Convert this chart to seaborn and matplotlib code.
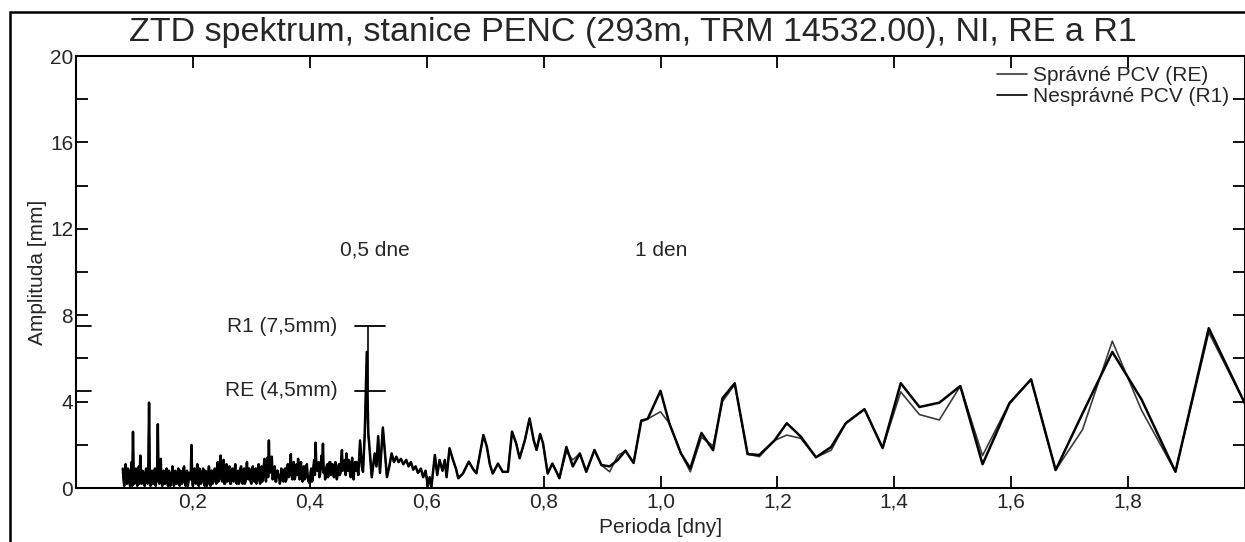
import matplotlib
matplotlib.use("Agg")
import matplotlib.pyplot as plt
import seaborn as sns
import pandas as pd
from matplotlib.patches import Rectangle
from matplotlib.ticker import FuncFormatter, MultipleLocator

# ---------------- data ----------------
# dense short-period part (both solutions overlap there)
period_dense = [
    0.080, 0.0825, 0.085, 0.0875, 0.090, 0.0925, 0.095, 0.0975, 0.100, 0.1025,
    0.105, 0.1075, 0.110, 0.1125, 0.115, 0.1175, 0.120, 0.1225, 0.125, 0.1275,
    0.130, 0.1325, 0.135, 0.1375, 0.140, 0.1425, 0.145, 0.1475, 0.150, 0.1525,
    0.155, 0.1575, 0.160, 0.1625, 0.165, 0.1675, 0.170, 0.1725, 0.175, 0.1775,
    0.180, 0.1825, 0.185, 0.1875, 0.190, 0.1925, 0.195, 0.1975, 0.200, 0.2025,
    0.205, 0.2075, 0.210, 0.2125, 0.215, 0.2175, 0.220, 0.2225, 0.225, 0.2275,
    0.230, 0.2325, 0.235, 0.2375, 0.240, 0.2425, 0.245, 0.2475, 0.250, 0.2525,
    0.255, 0.2575, 0.260, 0.2625, 0.265, 0.2675, 0.270, 0.2725, 0.275, 0.2775,
    0.280, 0.2825, 0.285, 0.2875, 0.290, 0.2925, 0.295, 0.2975, 0.300, 0.3025,
    0.305, 0.3075, 0.310, 0.3125, 0.315, 0.3175, 0.320, 0.3225, 0.325, 0.3275,
    0.330, 0.3325, 0.335, 0.3375, 0.340, 0.3425, 0.345, 0.3475, 0.350, 0.3525,
    0.355, 0.3575, 0.360, 0.3625, 0.365, 0.3675, 0.370, 0.3725, 0.375, 0.3775,
    0.380, 0.3825, 0.385, 0.3875, 0.390, 0.3925, 0.395, 0.3975, 0.400, 0.4025,
    0.405, 0.4075, 0.410, 0.4125, 0.415, 0.4175, 0.420, 0.4225, 0.425, 0.4275,
    0.430, 0.4325, 0.435, 0.4375, 0.440, 0.4425, 0.445, 0.4475, 0.450, 0.4525,
    0.455, 0.4575, 0.460, 0.4625, 0.465, 0.4675, 0.470, 0.4725, 0.475, 0.4775,
    0.480, 0.483, 0.486, 0.489, 0.491, 0.494,
]
amp_dense = [
    0.9, 0.1, 1.1, 0.2, 0.8, 0.1, 1.2, 2.6, 0.2, 0.9,
    0.1, 1.0, 1.5, 0.2, 0.7, 0.1, 0.9, 0.2, 3.95, 0.1,
    0.8, 0.2, 0.9, 0.3, 2.95, 0.2, 1.35, 0.1, 0.8, 0.2,
    0.9, 0.1, 0.7, 0.3, 1.0, 0.1, 0.8, 0.2, 0.9, 0.1,
    0.7, 0.3, 1.0, 0.1, 0.8, 0.3, 0.6, 1.99, 0.1, 0.9,
    0.2, 1.1, 0.1, 0.8, 0.3, 0.9, 0.1, 0.7, 0.2, 1.0,
    0.1, 0.8, 0.3, 0.9, 0.2, 1.2, 0.4, 1.5, 0.3, 1.3,
    0.2, 1.1, 0.4, 1.0, 0.2, 0.9, 0.3, 1.1, 0.2, 0.8,
    0.4, 1.0, 0.2, 0.9, 0.3, 1.2, 0.4, 0.8, 0.2, 1.0,
    0.3, 0.9, 0.4, 1.1, 0.2, 1.0, 0.5, 1.35, 0.3, 1.4,
    2.2, 0.9, 1.45, 0.5, 1.0, 0.3, 0.8, 0.6, 0.35, 0.7,
    0.3, 0.9, 0.4, 1.1, 0.6, 1.57, 0.4, 1.2, 0.5, 1.1,
    1.35, 0.4, 1.2, 0.3, 1.0, 0.5, 1.1, 0.3, 0.2, 0.9,
    0.4, 1.3, 2.1, 0.8, 1.2, 0.6, 1.5, 2.05, 0.9, 0.65,
    1.1, 0.8, 1.2, 0.7, 1.0, 0.8, 0.9, 0.6, 1.1, 0.7,
    1.75, 0.9, 1.3, 1.6, 0.8, 1.2, 0.5, 1.4, 0.4, 1.2,
    1.2, 0.6, 2.2, 1.0, 0.75, 2.5,
]
# in-between harmonics of the dense part
period_dense_mid = [
    0.08125, 0.08375, 0.08625, 0.08875, 0.09125, 0.09375, 0.09625, 0.09875, 0.10125, 0.10375,
    0.10625, 0.10875, 0.11125, 0.11375, 0.11625, 0.11875, 0.12125, 0.12375, 0.12625, 0.12875,
    0.13125, 0.13375, 0.13625, 0.13875, 0.14125, 0.14375, 0.14625, 0.14875, 0.15125, 0.15375,
    0.15625, 0.15875, 0.16125, 0.16375, 0.16625, 0.16875, 0.17125, 0.17375, 0.17625, 0.17875,
    0.18125, 0.18375, 0.18625, 0.18875, 0.19125, 0.19375, 0.19625, 0.19875, 0.20125, 0.20375,
    0.20625, 0.20875, 0.21125, 0.21375, 0.21625, 0.21875, 0.22125, 0.22375, 0.22625, 0.22875,
    0.23125, 0.23375, 0.23625, 0.23875, 0.24125, 0.24375, 0.24625, 0.24875, 0.25125, 0.25375,
    0.25625, 0.25875, 0.26125, 0.26375, 0.26625, 0.26875, 0.27125, 0.27375, 0.27625, 0.27875,
    0.28125, 0.28375, 0.28625, 0.28875, 0.29125, 0.29375, 0.29625, 0.29875, 0.30125, 0.30375,
    0.30625, 0.30875, 0.31125, 0.31375, 0.31625, 0.31875, 0.32125, 0.32375, 0.32625, 0.32875,
    0.33125, 0.33375, 0.33625, 0.33875, 0.34125, 0.34375, 0.34625, 0.34875, 0.35125, 0.35375,
    0.35625, 0.35875, 0.36125, 0.36375, 0.36625, 0.36875, 0.37125, 0.37375, 0.37625, 0.37875,
    0.38125, 0.38375, 0.38625, 0.38875, 0.39125, 0.39375, 0.39625, 0.39875, 0.40125, 0.40375,
    0.40625, 0.40875, 0.41125, 0.41375, 0.41625, 0.41875, 0.42125, 0.42375, 0.42625, 0.42875,
    0.43125, 0.43375, 0.43625, 0.43875, 0.44125, 0.44375, 0.44625, 0.44875, 0.45125, 0.45375,
    0.45625, 0.45875, 0.46125, 0.46375, 0.46625, 0.46875, 0.47125, 0.47375, 0.47625, 0.47875,
]
amp_dense_mid = [
    0.4, 0.7, 0.2, 0.9, 0.3, 0.6, 0.1, 0.5, 0.8, 0.3,
    0.6, 0.2, 0.4, 0.8, 0.3, 0.7, 0.4, 0.9, 0.5, 0.6,
    0.2, 0.7, 0.1, 0.6, 0.4, 0.8, 0.3, 0.7, 0.2, 0.6,
    0.3, 0.8, 0.1, 0.6, 0.4, 0.7, 0.2, 0.5, 0.3, 0.8,
    0.2, 0.9, 0.3, 0.6, 0.1, 0.7, 0.4, 0.5, 0.8, 0.3,
    0.7, 0.3, 0.9, 0.2, 0.6, 0.4, 0.8, 0.1, 0.7, 0.3,
    0.8, 0.2, 0.6, 0.4, 0.9, 0.3, 0.7, 0.5, 0.8, 0.2,
    0.6, 0.3, 0.9, 0.2, 0.7, 0.4, 0.8, 0.3, 0.6, 0.2,
    0.9, 0.3, 0.7, 0.2, 0.8, 0.5, 0.9, 0.3, 0.7, 0.4,
    0.8, 0.2, 0.9, 0.4, 0.7, 0.3, 1.0, 0.6, 0.9, 0.5,
    0.7, 1.1, 0.4, 0.9, 0.3, 0.8, 0.5, 0.2, 0.9, 0.4,
    0.8, 0.3, 1.0, 0.5, 0.9, 0.6, 1.0, 0.4, 0.8, 0.6,
    0.7, 1.0, 0.5, 0.8, 0.4, 0.9, 0.6, 0.5, 0.7, 0.3,
    1.0, 0.6, 0.9, 1.1, 0.5, 1.0, 0.9, 0.7, 0.4, 1.0,
    0.5, 1.2, 0.6, 1.1, 0.5, 1.2, 0.4, 1.0, 0.6, 1.3,
    0.8, 1.1, 0.6, 1.0, 1.3, 0.7, 1.1, 0.6, 1.0, 0.8,
]

# longer-period part, where the two solutions differ
period_main = [
    0.4975, 0.500, 0.502, 0.506, 0.511, 0.514, 0.517, 0.520, 0.525, 0.529,
    0.532, 0.536, 0.540, 0.544, 0.548, 0.552, 0.556, 0.560, 0.565, 0.569,
    0.573, 0.577, 0.581, 0.585, 0.590, 0.594, 0.598, 0.602, 0.605, 0.608,
    0.611, 0.614, 0.618, 0.622, 0.627, 0.631, 0.634, 0.639, 0.645, 0.650,
    0.654, 0.662, 0.672, 0.680, 0.685, 0.697, 0.703, 0.708, 0.713, 0.722,
    0.730, 0.739, 0.746, 0.753, 0.759, 0.768, 0.776, 0.783, 0.788, 0.794,
    0.799, 0.807, 0.815, 0.822, 0.827, 0.839, 0.850, 0.862, 0.873, 0.887,
    0.899, 0.913, 0.927, 0.940, 0.954, 0.967, 0.978, 1.000, 1.015, 1.035,
    1.051, 1.070, 1.090, 1.106, 1.127, 1.149, 1.169, 1.195, 1.216, 1.240,
    1.266, 1.292, 1.317, 1.349, 1.380, 1.411, 1.443, 1.477, 1.513, 1.551,
    1.597, 1.634, 1.676, 1.722, 1.773, 1.823, 1.881, 1.938, 2.000,
]
amp_re = [
    4.1, 2.4, 1.9, 0.5, 1.6, 1.0, 2.4, 0.7, 2.8, 1.5,
    0.5, 1.0, 1.6, 1.2, 1.45, 1.2, 1.35, 1.1, 1.3, 1.0,
    1.2, 0.85, 1.0, 0.7, 0.9, 0.5, 0.8, 0.1, 0.5, 0.05,
    0.8, 1.53, 0.6, 1.3, 0.8, 1.3, 0.5, 1.84, 1.3, 0.9,
    0.45, 0.67, 1.22, 0.85, 0.68, 2.45, 1.9, 1.1, 0.67, 1.13,
    0.75, 0.75, 2.61, 2.07, 1.38, 2.22, 3.22, 2.22, 1.76, 2.5,
    2.07, 0.67, 1.13, 0.75, 0.45, 1.68, 1.3, 1.6, 0.75, 1.76,
    1.06, 0.75, 1.5, 1.73, 1.16, 3.15, 3.2, 3.53, 3.0, 1.6,
    0.75, 2.35, 1.95, 4.0, 4.8, 1.57, 1.45, 2.2, 2.45, 2.3,
    1.42, 1.75, 3.0, 3.65, 1.85, 4.45, 3.4, 3.15, 4.72, 1.5,
    3.95, 5.03, 0.83, 2.7, 6.8, 3.6, 0.75, 7.2, 3.9,
]
amp_r1 = [
    6.3, 2.6, 1.9, 0.5, 1.6, 1.0, 2.4, 0.7, 2.8, 1.5,
    0.5, 1.0, 1.6, 1.2, 1.45, 1.2, 1.35, 1.1, 1.3, 1.0,
    1.2, 0.85, 1.0, 0.7, 0.9, 0.5, 0.8, 0.1, 0.5, 0.05,
    0.8, 1.53, 0.6, 1.3, 0.8, 1.3, 0.5, 1.84, 1.3, 0.9,
    0.45, 0.67, 1.22, 0.85, 0.68, 2.45, 1.9, 1.1, 0.67, 1.13,
    0.75, 0.75, 2.61, 2.07, 1.38, 2.22, 3.22, 2.22, 1.76, 2.5,
    2.07, 0.67, 1.13, 0.75, 0.45, 1.9, 1.0, 1.6, 0.75, 1.76,
    1.06, 1.0, 1.3, 1.73, 1.16, 3.1, 3.2, 4.5, 3.0, 1.6,
    0.9, 2.55, 1.75, 4.15, 4.85, 1.57, 1.53, 2.2, 3.0, 2.38,
    1.42, 1.9, 3.0, 3.65, 1.85, 4.85, 3.75, 3.95, 4.72, 1.1,
    3.92, 5.03, 0.83, 3.45, 6.3, 4.1, 0.75, 7.4, 3.9,
]

series_labels = ["Správné PCV (RE)", "Nesprávné PCV (R1)"]
x_ticks = [0.2, 0.4, 0.6, 0.8, 1.0, 1.2, 1.4, 1.6, 1.8]
y_ticks = [0, 4, 8, 12, 16, 20]
peak_levels = [4.5, 7.5]
peak_labels = ["RE (4,5mm)", "R1 (7,5mm)"]
peak_period = 0.5
title = "ZTD spektrum, stanice PENC (293m, TRM 14532.00), NI, RE a R1"

# ---------------- figure ----------------
sns.set_style("ticks")
plt.rcParams["font.family"] = ["Liberation Sans", "DejaVu Sans"]
plt.rcParams["axes.linewidth"] = 1.5

W, H = 1245, 542
FS = 15
fig = plt.figure(figsize=(W / 100, H / 100), dpi=100)
ax = fig.add_axes([76 / W, 1 - 488 / H, 1 - 76 / W, (488 - 56) / H])

x_all = period_dense + period_dense_mid + period_main
df_re = pd.DataFrame({"x": x_all, "y": amp_dense + amp_dense_mid + amp_re})
df_r1 = pd.DataFrame({"x": x_all, "y": amp_dense + amp_dense_mid + amp_r1})

sns.lineplot(data=df_re, x="x", y="y", ax=ax, color="#3a3a3a", linewidth=1.2,
             label=series_labels[0], estimator=None, sort=True)
sns.lineplot(data=df_r1, x="x", y="y", ax=ax, color="black", linewidth=1.8,
             label=series_labels[1], estimator=None, sort=True)

ax.set_xlim(0, 2.0)
ax.set_ylim(0, 20)
ax.set_xticks(x_ticks)
ax.set_yticks(y_ticks)
ax.yaxis.set_minor_locator(MultipleLocator(2))
ax.xaxis.set_major_formatter(FuncFormatter(lambda v, p: f"{v:.1f}".replace(".", ",")))
ax.tick_params(which="both", direction="in", top=True, right=True,
               length=8.5, width=1.3, labelsize=FS, pad=3, color="black")
ax.tick_params(axis="y", pad=2)
for s in ax.spines.values():
    s.set_color("black")

ax.set_xlabel("Perioda [dny]", fontsize=FS, labelpad=5)
ax.set_ylabel("Amplituda [mm]", fontsize=FS, labelpad=2)

# peak marker (I-beam) and axis marks
ax.plot([peak_period, peak_period], peak_levels, color="black", lw=1.2)
for lev, lab in zip(peak_levels, peak_labels):
    ax.plot([0.478, 0.528], [lev, lev], color="black", lw=1.3)
    ax.plot([0, 0.026], [lev, lev], color="black", lw=1.3, clip_on=False)
    ax.text(0.447, lev, lab, fontsize=FS, ha="right", va="center")

ax.text(0.451, 11.0, "0,5 dne", fontsize=FS, ha="left", va="center")
ax.text(0.956, 11.0, "1 den", fontsize=FS, ha="left", va="center")

leg = ax.legend(loc="upper left", bbox_to_anchor=(997 / W, 1 - 66 / H),
                bbox_transform=fig.transFigure, frameon=False, fontsize=FS,
                handlelength=1.45, handletextpad=0.3, borderpad=0,
                labelspacing=0.1, borderaxespad=0)
for line in leg.get_lines():
    line.set_linewidth(1.2)

fig.text(633 / W, 1 - 33 / H, title, fontsize=24.5, ha="center", va="center")

# outer frame of the scanned figure
fig.add_artist(Rectangle((10 / W, -0.1), 1.2, 1.1 - 12 / H, transform=fig.transFigure,
                         fill=False, lw=1.8, edgecolor="black"))

fig.savefig("out.png", dpi=100)
